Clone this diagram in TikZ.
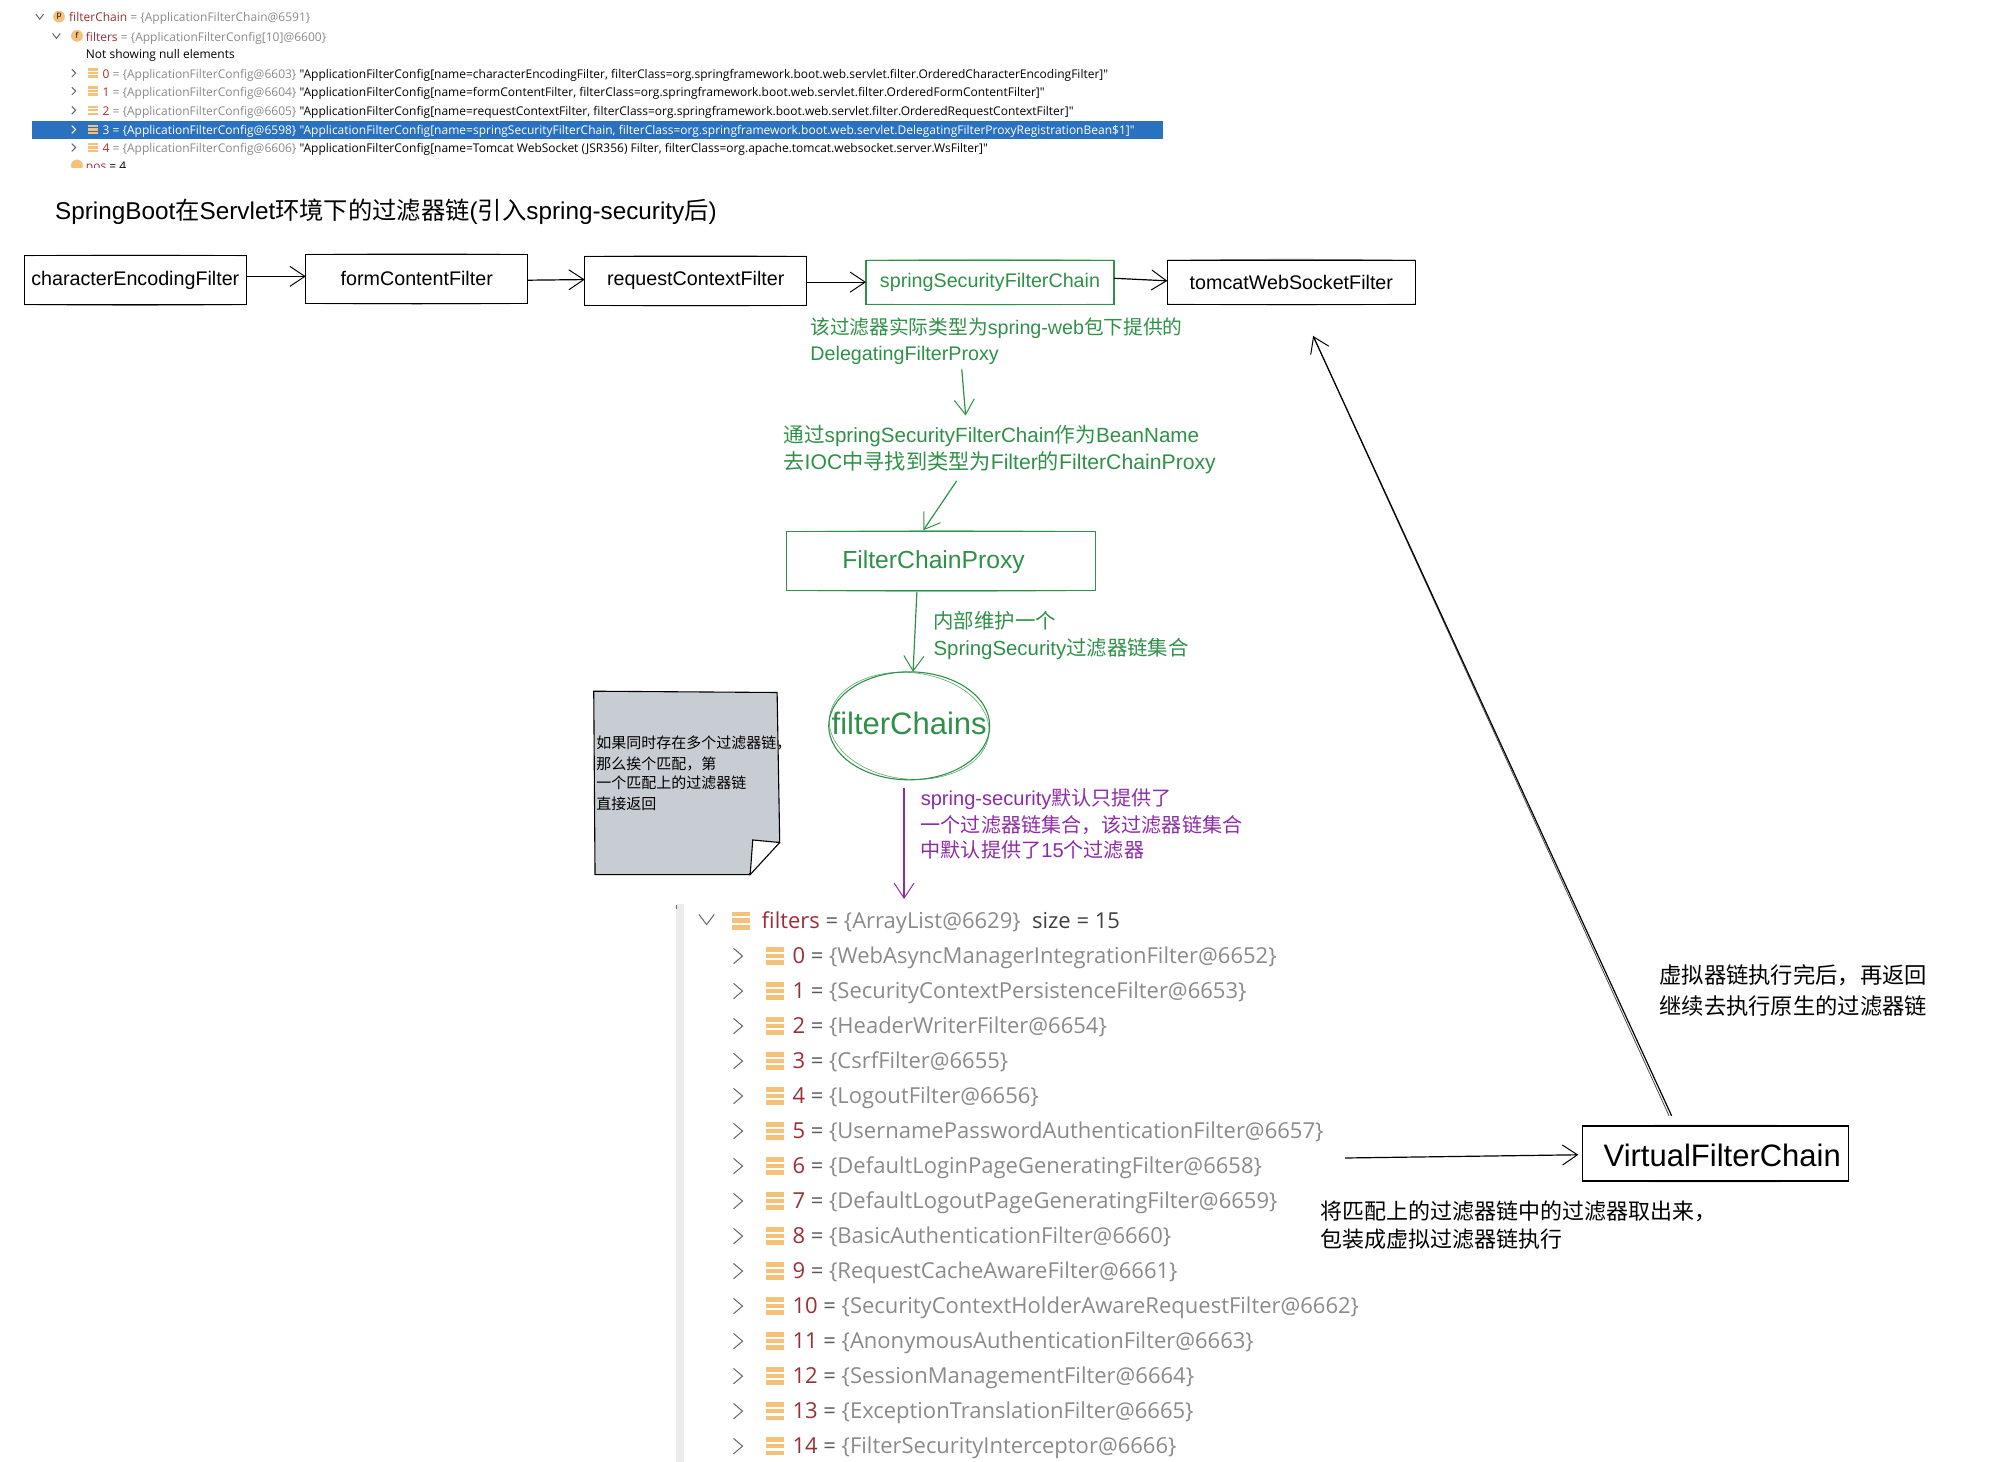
\documentclass[tikz,border=0pt]{standalone}
\usepackage{fontspec}
\setmainfont{Liberation Sans}
\newfontfamily\cjk{Noto Sans CJK SC}
\newfontfamily\dbg{Open Sans}
\usetikzlibrary{arrows.meta,shapes.geometric,calc}
\definecolor{gr}{HTML}{2F9049}
\definecolor{pu}{HTML}{8E2BA8}
\definecolor{notegray}{HTML}{C8CDD3}
\definecolor{barblue}{HTML}{2A72C0}
\definecolor{dred}{HTML}{9C2F35}
\definecolor{dgray}{HTML}{8A8A8A}
\definecolor{ic}{HTML}{F5C078}
\newcommand{\zh}[1]{{\cjk #1}}
\newcommand{\fs}[1]{\fontsize{#1}{#1}\selectfont}
\tikzset{
 px/.style={inner sep=0pt,outer sep=0pt},
 flow/.style={draw=black,line width=1.1pt,minimum height=49pt,minimum width=222pt,px,font=\fs{19.7}},
 arr/.style={-{Straight Barb[length=15pt,width=20pt,line width=1pt]},line width=1.2pt},
 lab/.style={px,anchor=base west,align=left,font=\fs{20}},
 dbgrow/.style={px,anchor=base west,font=\dbg\fs{22}},
 topr/.style={px,anchor=base west,font=\dbg\fs{12}},
 chev/.style={line width=1pt,draw=black!60},
 skline/.style={line width=0.8pt,opacity=0.55},
}
% second, slightly bowed stroke on the top and bottom edges: the hand-drawn look
\newcommand{\sketchbox}[2]{%
 \draw[skline,#2] (#1.north west) to[bend left=0.6] (#1.north east);
 \draw[skline,#2] (#1.south west) to[bend right=0.6] (#1.south east);}
\newcommand{\listicon}[3]{%
 \fill[#3] (#1,#2-7) rectangle ++(14,3.6);
 \fill[#3] (#1,#2-1.8) rectangle ++(14,3.6);
 \fill[#3] (#1,#2+3.4) rectangle ++(14,3.6);}
\newcommand{\smallicon}[2]{%
 \fill[ic] (#1,#2-3.6) rectangle ++(7.5,1.8);
 \fill[ic] (#1,#2-0.9) rectangle ++(7.5,1.8);
 \fill[ic] (#1,#2+1.8) rectangle ++(7.5,1.8);}
\begin{document}
\begin{tikzpicture}[x=1.2824pt,y=-1.2824pt]
\useasboundingbox (0,0) rectangle (1567.4,1140);
% ---- top screenshot
\fill[barblue] (25,94) rectangle (907,108);
\draw[chev] (28,11) -- (31,15) -- (34,11);
\draw[chev] (41,26) -- (44,30) -- (47,26);
\fill[ic] (46,13) circle (4.6);
\fill[ic] (60,28) circle (4.6);
\node[px,font=\dbg\fs{8}] (picp) at (46,13) {p};
\node[px,font=\dbg\fs{8}] (picf) at (60,28) {f};
\node[topr] (t0) at (54,17) {\textcolor{dred}{filterChain} \textcolor{dgray}{= \{ApplicationFilterChain@6591\}}};
\node[topr] (t1) at (67,32) {\textcolor{dred}{filters} \textcolor{dgray}{= \{ApplicationFilterConfig[10]@6600\}}};
\node[topr] (t2) at (67,46) {Not showing null elements};
\foreach \yy/\n/\id/\body in {
 57/0/6603/{name=characterEncodingFilter, filterClass=org.springframework.boot.web.servlet.filter.OrderedCharacterEncodingFilter},
 71/1/6604/{name=formContentFilter, filterClass=org.springframework.boot.web.servlet.filter.OrderedFormContentFilter},
 86/2/6605/{name=requestContextFilter, filterClass=org.springframework.boot.web.servlet.filter.OrderedRequestContextFilter},
 115/4/6606/{name=Tomcat WebSocket (JSR356) Filter, filterClass=org.apache.tomcat.websocket.server.WsFilter}}{
 \draw[chev] (56,\yy-3) -- (59,\yy) -- (56,\yy+3);
 \smallicon{69}{\yy}
 \node[topr] (tr\n) at (80,\yy+4) {\textcolor{dred}{\n} \textcolor{dgray}{= \{ApplicationFilterConfig@\id\}} "ApplicationFilterConfig[\body]"};
}
\draw[chev,draw=white] (56,98) -- (59,101) -- (56,104);
\smallicon{69}{101}
\node[topr,text=white] (tr3) at (80,105) {3 = \{ApplicationFilterConfig@6598\} "ApplicationFilterConfig[name=springSecurityFilterChain, filterClass=org.springframework.boot.web.servlet.DelegatingFilterProxyRegistrationBean\$1]"};
\begin{scope}
\clip (50,124) rectangle (200,130.5);
\fill[ic] (60,129) circle (4.6);
\node[topr] (tpos) at (67,133) {\textcolor{dred}{pos} = 4};
\end{scope}
% ---- title
\node[lab,font=\fs{24.3}] (title) at (43,171) {SpringBoot\zh{在}Servlet\zh{环境下的过滤器链}(\zh{引入}spring-security\zh{后})};
% ---- flow boxes
\node[flow] (a) at (105.5,218.5) {\raisebox{2.5pt}{characterEncodingFilter}};
\node[flow] (b) at (325,217.5) {\raisebox{1.5pt}{formContentFilter}};
\node[flow] (c) at (542.5,219) {requestContextFilter};
\node[flow,draw=gr,text=gr,minimum width=248pt,minimum height=44pt] (d) at (772,220) {springSecurityFilterChain};
\node[flow,minimum width=248pt,minimum height=44pt] (e) at (1007,220) {tomcatWebSocketFilter};
\sketchbox{a}{black}
\sketchbox{b}{black}
\sketchbox{c}{black}
\sketchbox{d}{gr}
\sketchbox{e}{black}
\draw[arr] (a.east) ++(0,-3) -- ($(b.west)+(0,-2)$);
\draw[arr] (b.east) ++(0,1) -- ($(c.west)+(0,-1)$);
\draw[arr] (c.east) ++(0,1) -- ($(d.west)+(0,0)$);
\draw[arr] (d.east) ++(0,-3) -- ($(e.west)+(0,-1)$);
% ---- green chain
\node[lab,text=gr,font=\fs{19.7}] (l1) at (632,261) {\zh{该过滤器实际类型为}spring-web\zh{包下提供的}};
\node[lab,text=gr,font=\fs{19.7}] (l1b) at (632,281) {DelegatingFilterProxy};
\coordinate (g1s) at (750,288);
\coordinate (g1e) at (753,324);
\draw[arr,gr] (g1s) -- (g1e);
\node[lab,text=gr,font=\fs{20.6}] (l2) at (611,345) {\zh{通过}springSecurityFilterChain\zh{作为}BeanName};
\node[lab,text=gr,font=\fs{21.2}] (l2b) at (611,366) {\zh{去}IOC\zh{中寻找到类型为}Filter\zh{的}FilterChainProxy};
\coordinate (g2s) at (746,375);
\node[px,draw=gr,line width=1.1pt,minimum width=309pt,minimum height=59pt] (fcpbox) at (734,437.5) {};
\sketchbox{fcpbox}{gr}
\node[px,text=gr,font=\fs{24.7}] (fcp) at (728,438) {FilterChainProxy};
\draw[arr,gr] (g2s) -- ($(fcpbox.north)+(-14,-1)$);
\node[lab,text=gr,font=\fs{20.4}] (l3) at (728,490) {\zh{内部维护一个}};
\node[lab,text=gr,font=\fs{20.4}] (l3b) at (728,511) {SpringSecurity\zh{过滤器链集合}};
\node[ellipse,draw=gr,line width=1.1pt,px,minimum width=161pt,minimum height=108pt] (fc) at (709,566) {};
\draw[gr,line width=0.7pt,opacity=0.7,rotate around={-6:(fc.center)}] (fc.center) ellipse (62.5 and 41.5);
\node[px,text=gr,font=\fs{31}] (fct) at (709,564) {filterChains};
\draw[arr,gr] (fcpbox.south) ++(-19,1) -- ($(fc.north)+(3,0)$);
% ---- purple
\coordinate (pe) at (705,701);
\draw[arr,pu] ($(fc.south)+(-4,6)$) -- (pe);
\node[lab,text=pu,font=\fs{20.1}] (p1) at (718,628) {spring-security\zh{默认只提供了}};
\node[lab,text=pu,font=\fs{20.1}] (p2) at (718,649) {\zh{一个过滤器链集合，该过滤器链集合}};
\node[lab,text=pu,font=\fs{20.1}] (p3) at (718,669) {\zh{中默认提供了}15\zh{个过滤器}};
% ---- note
\draw[fill=notegray,line width=1.1pt] (463,539) -- (606,540) -- (608,656) -- (584,682) -- (464,682) -- cycle;
\draw[fill=white,line width=1.1pt] (587,655) -- (608,657) -- (585,682) -- cycle;
\node[lab,font=\cjk\fs{15}] (n1) at (465,584) {如果同时存在多个过滤器链，};
\node[lab,font=\cjk\fs{15}] (n2) at (465,600) {那么挨个匹配，第};
\node[lab,font=\cjk\fs{15}] (n3) at (465,615) {一个匹配上的过滤器链};
\node[lab,font=\cjk\fs{15}] (n4) at (465,631) {直接返回};
% ---- debugger list
\fill[black!8] (527,705) rectangle (533,1141);
\fill[black!60] (527,706) rectangle (528,709);
\draw[chev] (545,713) -- (551,721) -- (557,713);
\listicon{571}{718}{ic}
\node[dbgrow] (hd) at (594,724) {\textcolor{dred}{filters} \textcolor{black!65}{=} \textcolor{dgray}{\{ArrayList@6629\}} \ \textcolor{black!75}{size = 15}};
\foreach \i/\name [evaluate=\i as \yy using 745.5+27.3*\i] in {
 0/WebAsyncManagerIntegrationFilter@6652,
 1/SecurityContextPersistenceFilter@6653,
 2/HeaderWriterFilter@6654,
 3/CsrfFilter@6655,
 4/LogoutFilter@6656,
 5/UsernamePasswordAuthenticationFilter@6657,
 6/DefaultLoginPageGeneratingFilter@6658,
 7/DefaultLogoutPageGeneratingFilter@6659,
 8/BasicAuthenticationFilter@6660,
 9/RequestCacheAwareFilter@6661,
 10/SecurityContextHolderAwareRequestFilter@6662,
 11/AnonymousAuthenticationFilter@6663,
 12/SessionManagementFilter@6664,
 13/ExceptionTranslationFilter@6665,
 14/FilterSecurityInterceptor@6666}{
 \draw[chev] (572,\yy-6) -- (579,\yy) -- (572,\yy+6);
 \listicon{597}{\yy}{ic}
 \node[dbgrow] (row\i) at (618,\yy+6) {\textcolor{dred}{\i} \textcolor{black!65}{=} \textcolor{dgray}{\{\name\}}};
}
% ---- virtual chain
\node[px,draw=black,line width=1.1pt,minimum width=266pt,minimum height=55pt] (v) at (1337.5,899.5) {};
\sketchbox{v}{black}
\node[px,font=\fs{31}] (vt) at (1343,901) {VirtualFilterChain};
\coordinate (vs) at (1049,903);
\draw[arr] (vs) -- ($(v.west)+(-3,1)$);
\coordinate (ve) at (1024,262);
\draw[arr] ($(v.north)+(-34,-8)$) -- (ve);
\draw[line width=0.8pt,opacity=0.7] ($(v.north)+(-36,-8)$) -- (ve);
\node[lab,font=\cjk\fs{22}] (k1) at (1030,951) {将匹配上的过滤器链中的过滤器取出来，};
\node[lab,font=\cjk\fs{22}] (k2) at (1030,973) {包装成虚拟过滤器链执行};
\node[lab,font=\cjk\fs{22.3}] (k3) at (1294,767) {虚拟器链执行完后，再返回};
\node[lab,font=\cjk\fs{22.3}] (k4) at (1294,791) {继续去执行原生的过滤器链};
\end{tikzpicture}
\end{document}
